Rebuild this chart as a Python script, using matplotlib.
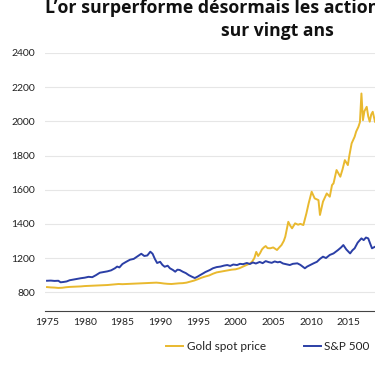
import matplotlib
matplotlib.use('Agg')
import matplotlib.pyplot as plt
from matplotlib.lines import Line2D

# values are in axis units: the tick at 1000 carries the label "800" as in the source
gold_years = [1975.0, 1975.5, 1976.0, 1976.5, 1977.0, 1977.5, 1978.0, 1978.5, 1979.0, 1979.5,
              1980.0, 1980.5, 1981.0, 1981.5, 1982.0, 1982.5, 1983.0, 1983.5, 1984.0, 1984.5,
              1985.0, 1985.5, 1986.0, 1986.5, 1987.0, 1987.5, 1988.0, 1988.5, 1989.0, 1989.5,
              1990.0, 1990.5, 1991.0, 1991.5, 1992.0, 1992.5, 1993.0, 1993.5, 1994.0, 1994.5,
              1995.0, 1995.5, 1996.0, 1996.5, 1997.0, 1997.5, 1998.0, 1998.5, 1999.0, 1999.5,
              2000.0, 2000.5, 2001.0, 2001.5, 2002.0, 2002.25, 2002.5, 2002.75, 2003.0, 2003.25,
              2003.5, 2003.75, 2004.0, 2004.25, 2004.6, 2005.0, 2005.5, 2005.8, 2006.1, 2006.4,
              2006.6, 2007.0, 2007.25, 2007.5, 2007.9, 2008.3, 2008.6, 2009.0, 2009.4, 2009.7,
              2010.1, 2010.5, 2011.0, 2011.2, 2011.6, 2012.1, 2012.5, 2012.8, 2013.0, 2013.4,
              2013.9, 2014.2, 2014.5, 2014.9, 2015.1, 2015.4, 2015.8, 2016.0, 2016.3, 2016.5,
              2016.7, 2016.9, 2017.1, 2017.4, 2017.6, 2017.8, 2018.0, 2018.2, 2018.5]
gold_values = [1030, 1028, 1027, 1025, 1026, 1029, 1031, 1032, 1033, 1034,
               1036, 1037, 1038, 1039, 1040, 1041, 1042, 1044, 1046, 1048,
               1047, 1048, 1049, 1050, 1051, 1052, 1053, 1054, 1055, 1056,
               1054, 1051, 1049, 1048, 1050, 1052, 1053, 1056, 1062, 1068,
               1076, 1085, 1092, 1098, 1108, 1116, 1120, 1124, 1128, 1132,
               1134, 1140, 1150, 1160, 1170, 1182, 1200, 1236, 1212, 1228,
               1250, 1262, 1270, 1258, 1257, 1262, 1247, 1262, 1276, 1300,
               1325, 1412, 1390, 1374, 1403, 1395, 1400, 1393, 1461, 1520,
               1588, 1549, 1539, 1452, 1530, 1578, 1559, 1627, 1637, 1715,
               1676, 1720, 1773, 1744, 1800, 1871, 1910, 1940, 1968, 1995,
               2163, 2007, 2060, 2085, 2030, 1998, 2040, 2056, 1998]

sp_years = [1975.0, 1975.5, 1976.0, 1976.5, 1976.8, 1977.2, 1977.6, 1978.0, 1978.5, 1979.0,
            1979.5, 1980.0, 1980.5, 1981.0, 1981.5, 1982.0, 1982.5, 1983.0, 1983.5, 1984.0,
            1984.3, 1984.6, 1985.0, 1985.5, 1986.0, 1986.5, 1987.0, 1987.5, 1987.9, 1988.3,
            1988.7, 1989.0, 1989.3, 1989.6, 1990.0, 1990.3, 1990.6, 1991.0, 1991.3, 1991.7,
            1992.0, 1992.3, 1992.6, 1993.0, 1993.4, 1993.8, 1994.2, 1994.6, 1995.0, 1995.3,
            1995.7, 1996.0, 1996.6, 1997.0, 1997.5, 1998.0, 1998.5, 1998.9, 1999.3, 1999.7,
            2000.2, 2000.6, 2001.0, 2001.5, 2001.9, 2002.3, 2002.7, 2003.2, 2003.6, 2004.0,
            2004.4, 2004.8, 2005.2, 2005.6, 2005.9, 2006.3, 2006.7, 2007.2, 2007.6, 2008.2,
            2008.6, 2009.2, 2009.5, 2009.9, 2010.4, 2010.8, 2011.2, 2011.6, 2012.0, 2012.5,
            2013.0, 2013.6, 2014.0, 2014.3, 2014.7, 2015.2, 2015.5, 2015.8, 2016.2, 2016.7,
            2017.0, 2017.3, 2017.6, 2017.9, 2018.1, 2018.5]
sp_values = [1067, 1068, 1066, 1067, 1058, 1060, 1063, 1070, 1074, 1078,
             1082, 1085, 1090, 1088, 1100, 1114, 1118, 1122, 1128, 1140,
             1150, 1145, 1165, 1178, 1190, 1195, 1210, 1225, 1212, 1215,
             1237, 1225, 1195, 1171, 1178, 1160, 1149, 1155, 1140, 1130,
             1120, 1132, 1130, 1120, 1112, 1100, 1091, 1083, 1092, 1100,
             1110, 1118, 1130, 1140, 1147, 1150, 1156, 1159, 1154, 1162,
             1159, 1166, 1164, 1171, 1165, 1174, 1168, 1177, 1170, 1182,
             1176, 1172, 1180, 1175, 1178, 1168, 1164, 1159, 1166, 1169,
             1160, 1140, 1150, 1159, 1170, 1178, 1195, 1208, 1200, 1218,
             1227, 1247, 1262, 1276, 1250, 1227, 1245, 1257, 1290, 1315,
             1305, 1320, 1315, 1280, 1257, 1266]

y_ticks = [1000, 1200, 1400, 1600, 1800, 2000, 2200, 2400]
y_tick_labels = ['800', '1200', '1400', '1600', '1800', '2000', '2200', '2400']
x_ticks = [1975, 1980, 1985, 1990, 1995, 2000, 2005, 2010, 2015]

GOLD = '#E9B92F'
BLUE = '#2B3FA6'

plt.rcParams['font.family'] = ['Lato', 'DejaVu Sans']

fig = plt.figure(figsize=(3.75, 3.66), dpi=100)
ax = fig.add_axes([45/375, 1-311/366, 330/375, (311-53)/366])

ax.plot(gold_years, gold_values, color=GOLD, lw=1.4, label='Gold spot price')
ax.plot(sp_years, sp_values, color=BLUE, lw=1.4, label='S&P 500')

ax.set_xlim(1974.73, 2018.5)
ax.set_ylim(890, 2400)
ax.set_yticks(y_ticks)
ax.set_yticklabels(y_tick_labels)
ax.set_xticks(x_ticks)
ax.grid(axis='y', color='#e6e6e6', lw=0.8)
ax.set_axisbelow(True)
for s in ['top', 'right', 'left']:
    ax.spines[s].set_visible(False)
ax.spines['bottom'].set_color('#444444')
ax.spines['bottom'].set_linewidth(0.8)
ax.tick_params(axis='both', length=0, labelsize=7.5, colors='#222222')
ax.tick_params(axis='y', pad=7)
ax.tick_params(axis='x', pad=5)

# the source image is a crop, so the first title line runs off the right edge
title_font = ['Open Sans', 'DejaVu Sans']
fig.text(45/375, 1-13/366, 'L\u2019or surperforme désormais les actions',
         ha='left', va='baseline', fontsize=12.8, fontweight='bold', color='#111111',
         family=title_font)
fig.text(277/375, 1-36/366, 'sur vingt ans',
         ha='center', va='baseline', fontsize=12.6, fontweight='bold', color='#111111',
         family=title_font)

handles = [Line2D([], [], color=GOLD, lw=1.4), Line2D([], [], color=BLUE, lw=1.4)]
fig.legend(handles, ['Gold spot price', 'S&P 500'], loc='center',
           bbox_to_anchor=(268/375, 1-347/366), ncol=2, frameon=False,
           fontsize=8.5, handlelength=1.45, handletextpad=0.3, columnspacing=3.2,
           labelcolor='#222222')

fig.savefig('out.png', dpi=100, facecolor='white')
